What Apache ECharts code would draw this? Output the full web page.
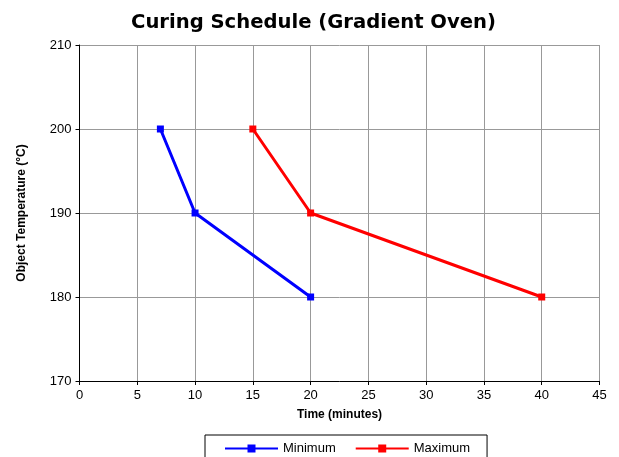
<!DOCTYPE html>
<html>
<head>
<meta charset="utf-8">
<script src="https://cdn.jsdelivr.net/npm/echarts@6/dist/echarts.min.js"></script>
<style>
  html, body { margin: 0; padding: 0; background: #fff; }
  #chart { width: 619px; height: 457px; }
</style>
</head>
<body>
<div id="chart"></div>
<script>
// data
var minimum_data = [[7, 200], [10, 190], [20, 180]];
var maximum_data = [[15, 200], [20, 190], [40, 180]];
var series_names = ['Minimum', 'Maximum'];

var myChart = echarts.init(document.getElementById('chart'));

var option = {
    animation: false,
    title: {
        text: 'Curing Schedule (Gradient Oven)',
        left: 126,
        top: 8,
        textStyle: { fontFamily: 'DejaVu Sans', fontWeight: 'bold', fontSize: 19.6, color: '#000' }
    },
    legend: {
        data: series_names,
        top: 435,
        left: 205,
        padding: [7, 17, 12, 19],
        itemWidth: 53,
        itemHeight: 10,
        itemGap: 19,
        borderColor: '#000',
        borderWidth: 1,
        textStyle: { fontFamily: 'Liberation Sans', fontSize: 13, color: '#000' }
    },
    grid: { left: 79.5, right: 19.5, top: 45, bottom: 76 },
    xAxis: {
        type: 'value',
        min: 0, max: 45, interval: 5,
        name: 'Time (minutes)',
        nameLocation: 'middle',
        nameGap: 28,
        nameTextStyle: { fontFamily: 'Liberation Sans', fontWeight: 'bold', fontSize: 12, color: '#000' },
        axisLine: { show: true, lineStyle: { color: '#000', width: 1 } },
        axisTick: { show: true, length: 4, lineStyle: { color: '#000' } },
        axisLabel: { fontFamily: 'Liberation Sans', fontSize: 13, color: '#000', margin: 8 },
        splitLine: { show: true, lineStyle: { color: '#999', width: 1 } }
    },
    yAxis: {
        type: 'value',
        min: 170, max: 210, interval: 10,
        name: 'Object Temperature (°C)',
        nameLocation: 'middle',
        nameGap: 52,
        nameTextStyle: { fontFamily: 'Liberation Sans', fontWeight: 'bold', fontSize: 12, color: '#000' },
        axisLine: { show: true, lineStyle: { color: '#000', width: 1 } },
        axisTick: { show: true, length: 4, lineStyle: { color: '#000' } },
        axisLabel: { fontFamily: 'Liberation Sans', fontSize: 13, color: '#000', margin: 8 },
        splitLine: { show: true, lineStyle: { color: '#999', width: 1 } }
    },
    series: [{
        name: series_names[0],
        type: 'line',
        data: minimum_data,
        color: '#0000ff',
        symbol: 'rect',
        symbolSize: 7,
        lineStyle: { width: 3 }
    }, {
        name: series_names[1],
        type: 'line',
        data: maximum_data,
        color: '#ff0000',
        symbol: 'rect',
        symbolSize: 7,
        lineStyle: { width: 3 }
    }]
};
myChart.setOption(option);
</script>
</body>
</html>
